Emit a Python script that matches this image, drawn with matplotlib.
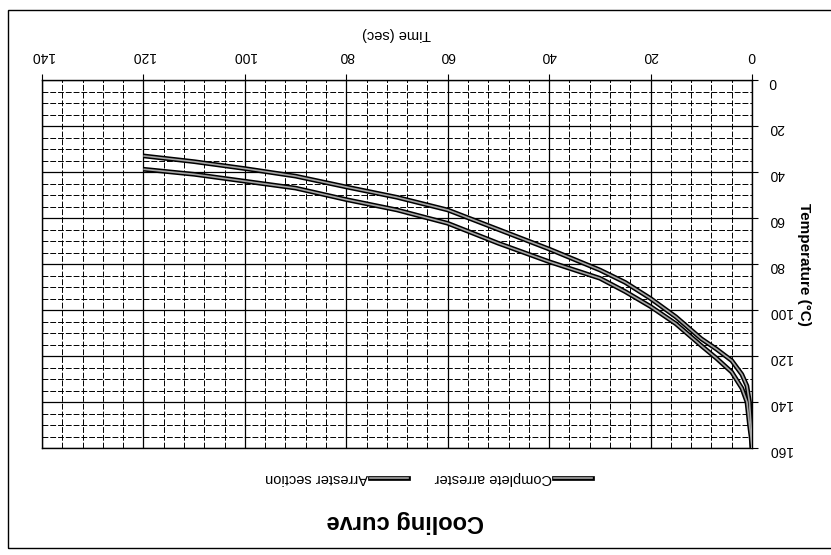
import numpy as np
import matplotlib.pyplot as plt
from matplotlib.ticker import MultipleLocator
from matplotlib.lines import Line2D
from matplotlib.patches import Rectangle

plt.rcParams['font.family'] = ['Liberation Sans', 'DejaVu Sans']

# Cooling curve data (time in s, temperature in deg C)
time_s = [0, 0.2, 0.5, 1, 2, 4, 7, 10, 15, 20, 25, 30, 40, 50, 60, 70, 80, 90, 100, 110, 120]
complete_arrester = [160, 155, 150, 140, 134, 127, 121, 115.5, 106, 98.5, 92, 86.2, 79, 71,
                     62.3, 56.5, 52, 47, 44, 41, 38.8]
arrester_section = [160, 150, 140, 133, 128, 122, 117, 112.5, 103, 95, 88, 82.6, 73.5, 65,
                    56.5, 51, 46.5, 41.8, 38.5, 35.5, 33]
x_ticks = [0, 20, 40, 60, 80, 100, 120, 140]
y_ticks = [0, 20, 40, 60, 80, 100, 120, 140, 160]

fig = plt.figure(figsize=(8.31, 5.55), dpi=100)
ax = fig.add_axes([42 / 831, 1 - 448 / 555, 710 / 831, 368 / 555])

# the scanned page is upside down, so everything is drawn turned by 180 degrees
for y in [complete_arrester, arrester_section]:
    ax.plot(time_s, y, color='black', lw=3.4, solid_capstyle='butt', zorder=3)
    ax.plot(time_s, y, color='0.65', lw=1.2, solid_capstyle='butt', zorder=4)

ax.set_xlim(140, 0)
ax.set_ylim(160, 0)
ax.set_xticks(x_ticks)
ax.set_yticks(y_ticks)
ax.xaxis.set_minor_locator(MultipleLocator(4))
ax.yaxis.set_minor_locator(MultipleLocator(5))
ax.xaxis.tick_top()
ax.yaxis.tick_right()
ax.tick_params(which='major', direction='out', length=4, width=0.8, labelsize=10,
               labelrotation=180, pad=8)
ax.tick_params(which='minor', length=0)
ax.grid(which='major', color='black', lw=0.9, ls='-')
ax.grid(which='minor', color='black', lw=0.7, ls=(0, (6, 2)))
for s in ax.spines.values():
    s.set_color('black')
    s.set_linewidth(1.0)

ax.xaxis.set_label_position('top')
ax.set_xlabel('Time (sec)', fontsize=10.5, rotation=180, labelpad=8)
ax.yaxis.set_label_position('right')
ax.set_ylabel('Temperature (°C)', fontsize=11, fontweight='bold', rotation=270, labelpad=14)

# title and legend, upside down below the plot
fig.text(405 / 831, 1 - 522 / 555, 'Cooling curve', fontsize=17, fontweight='bold',
         rotation=180, ha='center', va='center')
legend_items = [('Complete arrester', 592), ('Arrester section', 408)]
for name, xr in legend_items:
    for c, w in [('black', 3.4), ('0.65', 1.2)]:
        fig.add_artist(Line2D([(xr - 38) / 831, xr / 831], [1 - 478 / 555] * 2,
                              color=c, lw=w, transform=fig.transFigure))
    fig.text((xr - 40) / 831, 1 - 478 / 555, name, fontsize=10.5, rotation=180,
             ha='right', va='center')

fig.add_artist(Rectangle((8 / 831, 1 - 548 / 555), 1.2, 538 / 555, fill=False,
                         edgecolor='black', lw=1.0, transform=fig.transFigure))

fig.savefig('out.png', dpi=100)
